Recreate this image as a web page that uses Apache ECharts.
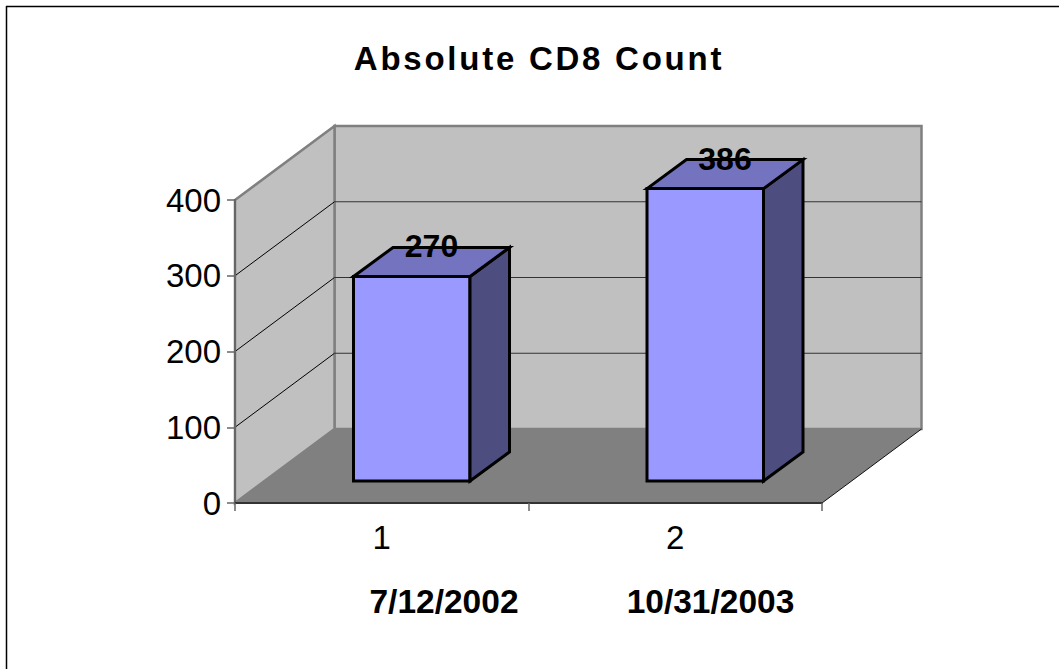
<!DOCTYPE html>
<html><head><meta charset="utf-8">
<style>html,body{margin:0;padding:0;background:#fff}#c{width:1059px;height:669px}</style>
<script src="https://cdn.jsdelivr.net/npm/echarts@6/dist/echarts.min.js"></script>
</head><body><div id="c"></div>
<script>
const titleText = 'Absolute CD8 Count';
const categories = ['1', '2'];
const values = [270, 386];
const dates = ['7/12/2002', '10/31/2003'];
const yTicks = [0, 100, 200, 300, 400];

const FONT = '"Liberation Sans", Arial, sans-serif';
const DX = 99.5, DY = -74;            // depth of the 3D box
const BAR = {w: 116.5, ox: 30, oy: -22, dx: 39.5, dy: -29};

const chart = echarts.init(document.getElementById('c'), null, {renderer: 'svg'});

function poly(points, fill, stroke, lw, join) {
  return {type: 'polygon', shape: {points},
    style: {fill, stroke: stroke || 'none', lineWidth: lw || 0, lineJoin: join || 'miter'}};
}
function line(a, b, stroke, lw) {
  return {type: 'line', shape: {x1: a[0], y1: a[1], x2: b[0], y2: b[1]}, style: {stroke, lineWidth: lw}};
}

function renderBox(params, api) {
  const cs = params.coordSys, x0 = cs.x, x1 = cs.x + cs.width;
  const y0 = api.coord([0, 0])[1], yT = api.coord([0, 400])[1];
  const kids = [
    poly([[x0 + DX, yT + DY], [x1 + DX, yT + DY], [x1 + DX, y0 + DY], [x0 + DX, y0 + DY]], '#c0c0c0', '#808080', 2.5),
    poly([[x0, yT], [x0 + DX, yT + DY], [x0 + DX, y0 + DY], [x0, y0]], '#c0c0c0', '#808080', 2.5),
    poly([[x0, y0], [x1, y0], [x1 + DX, y0 + DY], [x0 + DX, y0 + DY]], '#808080')
  ];
  yTicks.slice(1, 4).forEach(v => {
    const y = api.coord([0, v])[1];
    kids.push(line([x0, y], [x0 + DX, y + DY], '#000', 1));
    kids.push(line([x0 + DX, y + DY], [x1 + DX, y + DY], '#333', 1));
  });
  kids.push(line([x1, y0], [x1 + DX, y0 + DY], '#111', 1));
  return {type: 'group', children: kids};
}

function renderBar(params, api) {
  const idx = api.value(0), val = api.value(1);
  const top = api.coord([idx, val]), base = api.coord([idx, 0]);
  const l = top[0] + BAR.ox - BAR.w / 2, r = l + BAR.w;
  const t = top[1] + BAR.oy, b = base[1] + BAR.oy;
  const s = {stroke: '#000', lw: 3};
  return {type: 'group', children: [
    poly([[l, t], [r, t], [r, b], [l, b]], '#9999ff', s.stroke, s.lw),
    poly([[r, t], [r + BAR.dx, t + BAR.dy], [r + BAR.dx, b + BAR.dy], [r, b]], '#4d4d80', s.stroke, s.lw),
    poly([[l, t], [l + BAR.dx, t + BAR.dy], [r + BAR.dx, t + BAR.dy], [r, t]], '#7373bf', s.stroke, s.lw),
    {type: 'text', x: (l + r) / 2 + BAR.dx / 2, y: t + BAR.dy - 1,
     style: {text: String(val), font: 'bold 32px ' + FONT, fill: '#000', align: 'center', verticalAlign: 'middle'}}
  ]};
}

chart.setOption({
  animation: false,
  backgroundColor: '#fff',
  title: {text: titleText, left: 534, textAlign: 'center', top: 37,
    textStyle: {fontFamily: FONT, fontWeight: 'bold', fontSize: 33, color: '#000'}},
  grid: {left: 235, top: 200, width: 587, height: 303},
  xAxis: {type: 'category', data: categories, z: 3,
    axisLine: {lineStyle: {color: '#333', width: 2}},
    axisTick: {show: true, alignWithLabel: false, length: 8, lineStyle: {color: '#666', width: 1.5}},
    axisLabel: {margin: 18, color: '#000', fontFamily: FONT, fontSize: 33},
    splitLine: {show: false}},
  yAxis: {type: 'value', min: 0, max: 400, interval: 100, z: 3,
    axisLine: {show: true, lineStyle: {color: '#666', width: 2}},
    axisTick: {show: true, length: 8, lineStyle: {color: '#666', width: 1.5}},
    axisLabel: {margin: 14, color: '#000', fontFamily: FONT, fontSize: 33},
    splitLine: {show: false}},
  graphic: [
    {type: 'line', shape: {x1: 6, y1: 6.5, x2: 1059, y2: 6.5}, style: {stroke: '#000', lineWidth: 1.5}},
    {type: 'line', shape: {x1: 6.5, y1: 6, x2: 6.5, y2: 669}, style: {stroke: '#000', lineWidth: 1.5}},
    {type: 'text', x: 444, y: 601, style: {text: dates[0], font: 'bold 33.5px ' + FONT, fill: '#000', align: 'center', verticalAlign: 'middle'}},
    {type: 'text', x: 710.5, y: 601, style: {text: dates[1], font: 'bold 33.5px ' + FONT, fill: '#000', align: 'center', verticalAlign: 'middle'}}
  ],
  series: [
    {type: 'custom', coordinateSystem: 'cartesian2d', z: 1, silent: true, data: [[0, 0]], renderItem: renderBox},
    {type: 'custom', coordinateSystem: 'cartesian2d', z: 4, silent: true,
     encode: {x: 0, y: 1}, data: values.map((v, i) => [i, v]), renderItem: renderBar}
  ]
});
document.querySelectorAll('#c svg text').forEach(t => {
  if (t.textContent === titleText) t.style.letterSpacing = '2.75px';
});
</script></body></html>
